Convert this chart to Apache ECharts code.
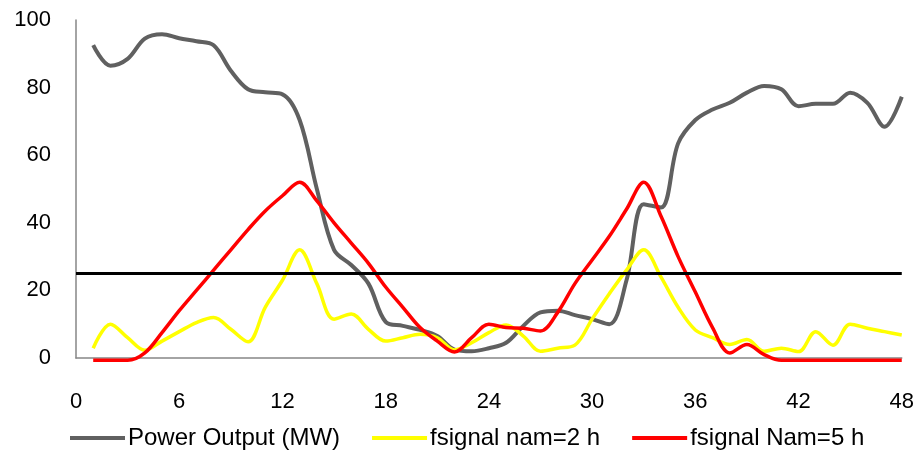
<!DOCTYPE html>
<html>
<head>
<meta charset="utf-8">
<script src="https://cdn.jsdelivr.net/npm/echarts@6/dist/echarts.min.js"></script>
<style>html,body{margin:0;padding:0;background:#fff;}#c{width:917px;height:456px;}</style>
</head>
<body>
<div id="c"></div>
<script>
const hours = [1,2,3,4,5,6,7,8,9,10,11,12,13,14,15,16,17,18,19,20,21,22,23,24,25,26,27,28,29,30,31,32,33,34,35,36,37,38,39,40,41,42,43,44,45,46,47,48];
const powerOutput = [92.6,86.5,88.5,94.5,95.8,94.6,93.7,92.5,85,79.5,78.6,78,70.4,50,32,27.5,22,10.7,9.5,8.3,6.5,2.5,2,2.9,4.5,9.5,13.5,14,12.7,11.5,10,23,45.5,44.5,63.5,70.4,73.5,75.5,78.5,80.5,79.5,74.5,75.2,75.2,78.5,75.5,68.4,77.3];
const fsignal2h = [2.9,10,6,2.3,5,7.8,10.5,12,8.5,4.8,15,23,32,22,11.5,13,8.5,5,6,7,6,2.4,4.5,7.5,9.8,6.5,2,2.9,3.8,11.5,19,26,32,24,15,8.3,6,4,5.5,2,2.9,1.9,7.8,3.8,10,8.8,7.8,6.8];
const fsignal5h = [-0.7,-0.7,-0.7,1.5,7.5,14,20,26,32,38,43.5,48,52,46.5,40,34,28,21,15,9,5,1.8,6,10,9,8.8,8,13.5,22,29,36,44,52,42,30,19.5,9,1.5,4,1,-0.7,-0.7,-0.7,-0.7,-0.7,-0.7,-0.7,-0.7];
const threshold = 25;
const seriesNames = ['Power Output (MW)','fsignal nam=2 h','fsignal Nam=5 h'];
const xTicks = {min:0, max:48, interval:6};
const yTicks = {min:0, max:100, interval:20};

const pair = (arr) => hours.map((h,i)=>[h,arr[i]]);
const chart = echarts.init(document.getElementById('c'));
chart.setOption({
  animation:false,
  grid:{left:76,right:13,top:20,bottom:98},
  legend:{
    left:65, bottom:1, itemWidth:55, itemHeight:4, itemGap:32, icon:'rect',
    textStyle:{fontFamily:'Liberation Sans',fontSize:24,color:'#000',padding:[0,0,0,-2]},
    data:seriesNames
  },
  xAxis:{
    type:'value', min:xTicks.min, max:xTicks.max, interval:xTicks.interval,
    axisLine:{lineStyle:{color:'#868686',width:1.5}},
    axisTick:{show:false}, splitLine:{show:false},
    axisLabel:{color:'#000',fontFamily:'Liberation Sans',fontSize:22,margin:33}
  },
  yAxis:{
    type:'value', min:yTicks.min, max:yTicks.max, interval:yTicks.interval,
    axisLine:{show:true,lineStyle:{color:'#868686',width:1.5}},
    axisTick:{show:false}, splitLine:{show:false},
    axisLabel:{color:'#000',fontFamily:'Liberation Sans',fontSize:22,margin:25}
  },
  series:[
    {name:seriesNames[0],type:'line',data:pair(powerOutput),smooth:0.35,showSymbol:false,clip:false,
     lineStyle:{color:'#606060',width:4},itemStyle:{color:'#606060'}},
    {name:seriesNames[1],type:'line',data:pair(fsignal2h),smooth:0.35,showSymbol:false,clip:false,
     lineStyle:{color:'#FFFF00',width:3.5},itemStyle:{color:'#FFFF00'}},
    {name:seriesNames[2],type:'line',data:pair(fsignal5h),smooth:0.35,showSymbol:false,clip:false,
     lineStyle:{color:'#FF0000',width:3.5},itemStyle:{color:'#FF0000'},
     markLine:{silent:true,symbol:'none',label:{show:false},
       lineStyle:{color:'#000',width:3,type:'solid'},data:[{yAxis:threshold}]}}
  ]
});
</script>
</body>
</html>
